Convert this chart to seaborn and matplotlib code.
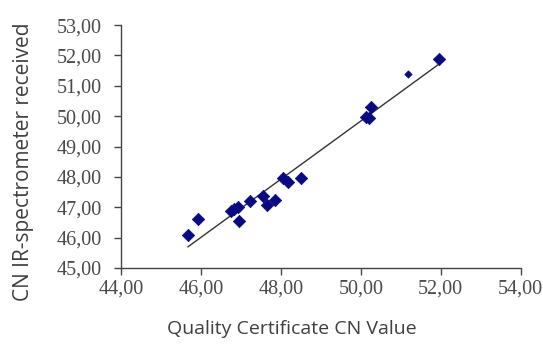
import matplotlib
matplotlib.use("Agg")
import matplotlib.pyplot as plt
import seaborn as sns
import pandas as pd
from matplotlib.ticker import FuncFormatter, MultipleLocator

certificate_cn = [45.67, 45.92, 46.75, 46.83, 46.92, 46.96, 47.23, 47.54, 47.64,
                  47.86, 48.04, 48.17, 48.50, 50.14, 50.20, 50.25, 51.17, 51.96]
ir_cn = [46.10, 46.60, 46.88, 46.96, 47.02, 46.55, 47.20, 47.36, 47.06,
         47.25, 47.98, 47.83, 47.98, 49.98, 49.94, 50.30, 51.40, 51.90]
sizes = [1] * 16 + [0.45, 1]

df = pd.DataFrame({"x": certificate_cn, "y": ir_cn, "s": sizes})

sns.set_style("white")
fig = plt.figure(figsize=(5.43, 3.49), dpi=100)
ax = fig.add_axes([0.223, 0.232, 0.736, 0.696])

sns.regplot(data=df, x="x", y="y", ax=ax, ci=None, scatter=False, truncate=True,
            line_kws=dict(color="#333333", lw=1.0))
big = df[df["s"] == 1]
small = df[df["s"] < 1]
sns.scatterplot(data=big, x="x", y="y", ax=ax, marker="D", s=40, color="#0a0a80",
                edgecolor="#0a0a80", linewidth=0.5, zorder=3)
sns.scatterplot(data=small, x="x", y="y", ax=ax, marker="D", s=14, color="#0a0a80",
                edgecolor="#0a0a80", linewidth=0.5, zorder=3)

ax.set_xlim(44, 54)
ax.set_ylim(45, 53)
ax.xaxis.set_major_locator(MultipleLocator(2))
ax.yaxis.set_major_locator(MultipleLocator(1))
fmt = FuncFormatter(lambda v, p: f"{v:.2f}".replace(".", ","))
ax.xaxis.set_major_formatter(fmt)
ax.yaxis.set_major_formatter(fmt)

for side in ["top", "right"]:
    ax.spines[side].set_visible(False)
for side in ["left", "bottom"]:
    ax.spines[side].set_color("#444444")
    ax.spines[side].set_linewidth(1.0)

ax.tick_params(axis="both", direction="out", length=5, width=1, color="#444444",
               labelcolor="#4a4a4a", labelsize=14.5, left=True, bottom=True)
ax.tick_params(axis="y", pad=9)
ax.tick_params(axis="x", pad=3)
for lab in ax.get_xticklabels() + ax.get_yticklabels():
    lab.set_family("Liberation Serif")

ax.set_xlabel("Quality Certificate CN Value", family="Open Sans", fontsize=14,
              color="#3f3f3f")
ax.set_ylabel("CN IR-spectrometer received", family="Open Sans", fontsize=15,
              color="#3f3f3f")
ax.xaxis.set_label_coords(0.428, -0.212)
ax.yaxis.set_label_coords(-0.218, 0.436)

fig.savefig("out.png", dpi=100)
